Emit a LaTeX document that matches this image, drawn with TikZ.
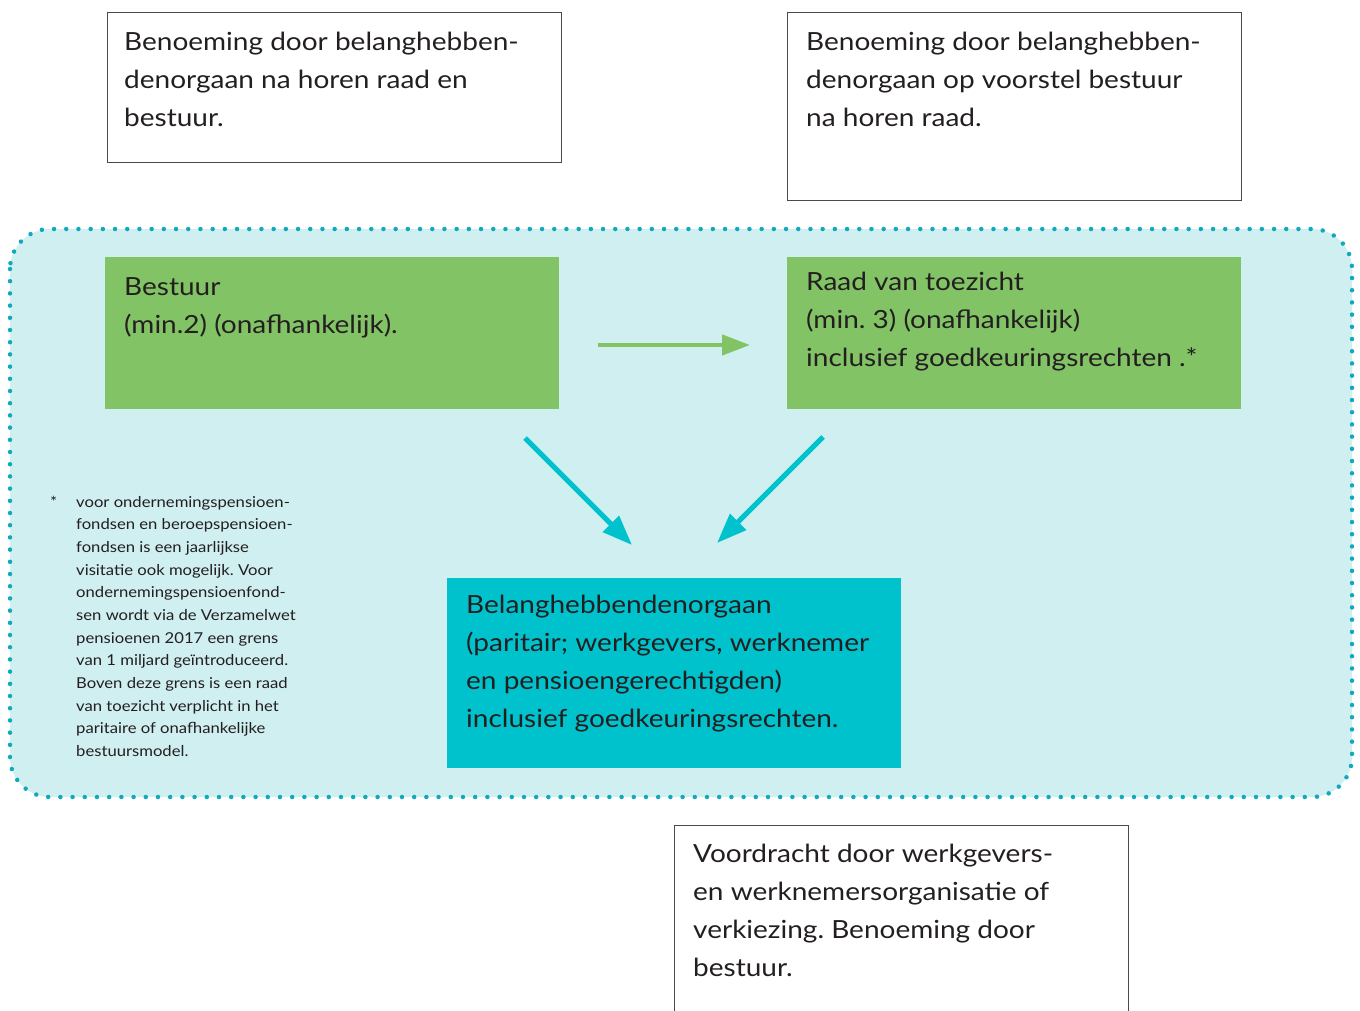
\documentclass[tikz,border=0pt]{standalone}
\usepackage{fontspec}
\setmainfont{Lato}
\newfontfamily\bigfont[FakeStretch=1.12]{Lato}
\newfontfamily\smallfont[FakeStretch=1.11]{Lato}
\frenchspacing
\usetikzlibrary{calc,arrows.meta}
\definecolor{ink}{HTML}{231F20}
\definecolor{boxline}{HTML}{4A4A4A}
\definecolor{panel}{HTML}{D0EFF1}
\definecolor{dotc}{HTML}{12A9BD}
\definecolor{grn}{HTML}{82C366}
\definecolor{cyn}{HTML}{00C2CD}
\tikzset{
  whitebox/.style={draw=boxline, line width=0.9pt, fill=white, anchor=north west, minimum width=454pt, inner sep=0pt},
  grnbox/.style={fill=grn, anchor=north west, minimum width=454pt, minimum height=152pt, inner sep=0pt},
  cynbox/.style={fill=cyn, anchor=north west, minimum width=454pt, minimum height=190pt, inner sep=0pt},
  bigtxt/.style={anchor=north west, inner sep=0pt, align=left, text=ink, font=\bigfont\fontsize{25}{38}\selectfont},
  smalltxt/.style={anchor=north west, inner sep=0pt, align=left, text=ink, font=\smallfont\fontsize{15}{22.65}\selectfont},
  grnarrow/.style={draw=grn, line width=4.5pt, -{Triangle[length=28pt,width=20pt]}},
  cynarrow/.style={draw=cyn, line width=5pt, -{Triangle[length=30pt,width=22pt]}},
}
\begin{document}
\begin{tikzpicture}[x=1pt,y=-1pt]
\clip (0,0) rectangle (1360,1010);
\useasboundingbox (0,0) rectangle (1360,1010);
% panel
\fill[panel] (10,229) [rounded corners=40pt] rectangle (1352,797);
\draw[dotc, line width=4.5pt, line cap=round, dash pattern=on 0pt off 12.2pt, rounded corners=40pt] (10,229) rectangle (1352,797);
% top boxes
\node[whitebox, minimum height=150pt] (tl) at (107,12) {};
\node[bigtxt] (tltxt) at (124,32) {Benoeming door belanghebben-\\denorgaan na horen raad en\\bestuur.};
\node[whitebox, minimum height=188pt] (tr) at (787,12) {};
\node[bigtxt] (trtxt) at (806,32) {Benoeming door belanghebben-\\denorgaan op voorstel bestuur\\na horen raad.};
% green boxes
\node[grnbox] (best) at (105,257) {};
\node[bigtxt] (besttxt) at (124,277) {Bestuur\\(min.2) (onafhankelijk).};
\node[grnbox] (raad) at (787,257) {};
\node[bigtxt] (raadtxt) at (806,272) {Raad van toezicht\\(min. 3) (onafhankelijk)\\inclusief goedkeuringsrechten .*};
% cyan box
\node[cynbox] (bel) at (447,578) {};
\node[bigtxt] (beltxt) at (466,595) {Belanghebbendenorgaan\\(paritair; werkgevers, werknemer\\en pensioengerechtigden)\\inclusief goedkeuringsrechten.};
% bottom box (open at the bottom edge of the picture)
\node[anchor=north west, minimum width=454pt, minimum height=200pt, inner sep=0pt] (vd) at (674,825) {};
\draw[boxline, line width=0.9pt, fill=white] (vd.south west) -- (vd.north west) -- (vd.north east) -- (vd.south east);
\node[bigtxt] (vdtxt) at (693,844) {Voordracht door werkgevers-\\en werknemersorganisatie of\\verkiezing. Benoeming door\\bestuur.};
% footnote
\node[smalltxt] (ast) at (50,496) {*};
\node[smalltxt] (fn) at (76,496) {voor ondernemingspensioen-\\fondsen en beroepspensioen-\\fondsen is een jaarlijkse\\visitatie ook mogelijk. Voor\\ondernemingspensioenfond-\\sen wordt via de Verzamelwet\\pensioenen 2017 een grens\\van 1 miljard geïntroduceerd.\\Boven deze grens is een raad\\van toezicht verplicht in het\\paritaire of onafhankelijke\\bestuursmodel.};
% connectors
\coordinate (g1) at (598,345);
\coordinate (g2) at (750,345);
\draw[grnarrow] (g1) -- (g2);
\coordinate (c1) at (525,438);
\coordinate (c2) at (632,545);
\draw[cynarrow] (c1) -- (c2);
\coordinate (c3) at (823,437);
\coordinate (c4) at (717,543);
\draw[cynarrow] (c3) -- (c4);
\end{tikzpicture}
\end{document}
